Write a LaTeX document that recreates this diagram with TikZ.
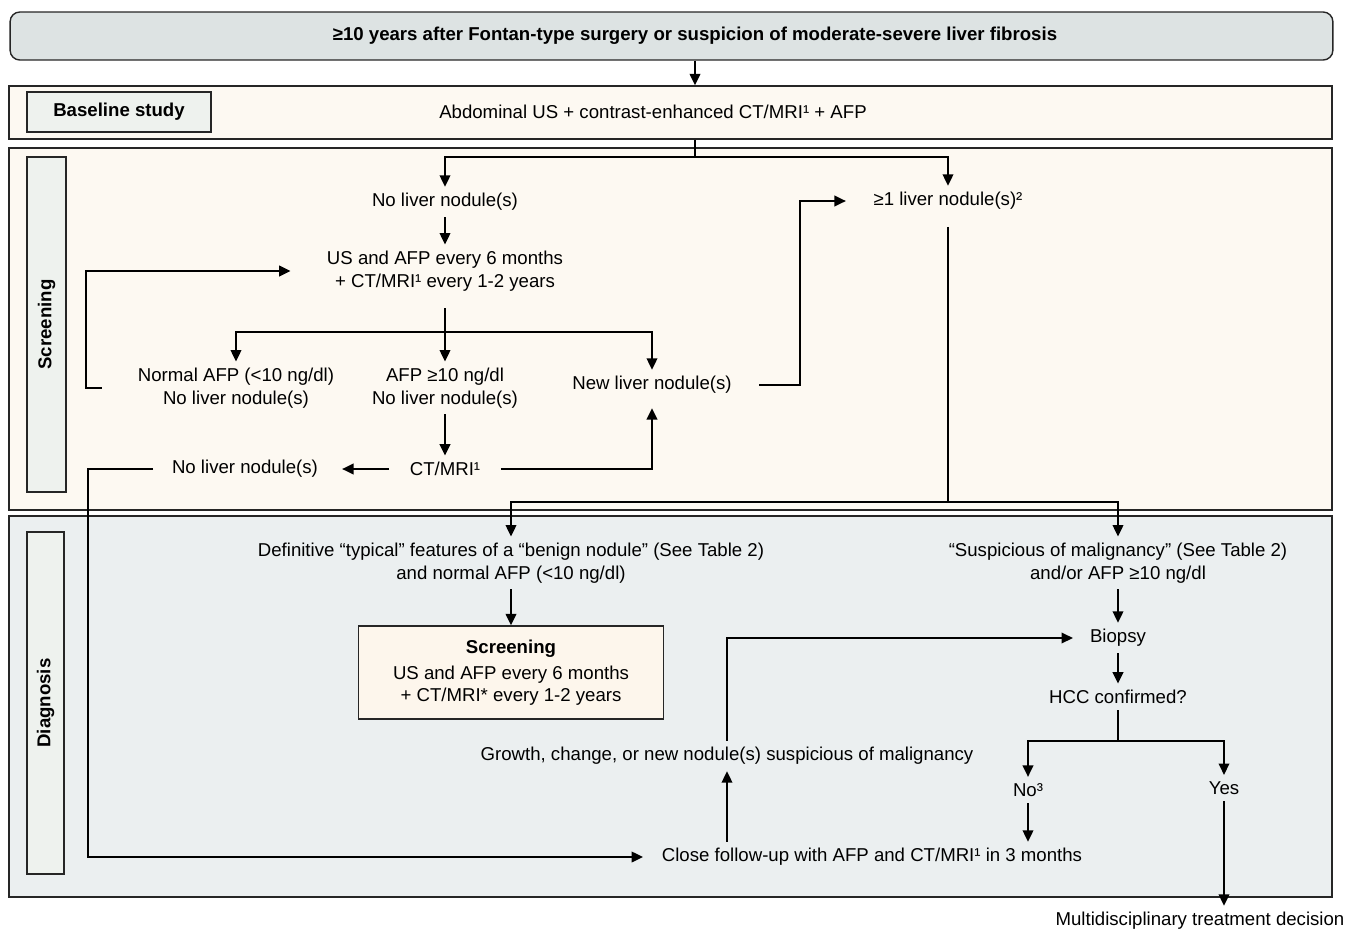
\documentclass[tikz,border=0pt]{standalone}
\usepackage{fontspec}
\setmainfont{Liberation Sans}
\usetikzlibrary{arrows.meta}
\usetikzlibrary{positioning}
\definecolor{topgray}{HTML}{DDE3E3}
\definecolor{creamfill}{HTML}{FDF9F2}
\definecolor{diaggray}{HTML}{EBEFF0}
\definecolor{sidefill}{HTML}{EEF2EE}
\definecolor{boxcream}{HTML}{FDF6EC}
\tikzset{
	line/.style={draw=black, line width=1.1pt},
	arr/.style={line, -{Triangle[length=6.5pt,width=6pt]}},
	band/.style={draw=black!85, line width=0.8pt, minimum width=26.46cm, inner sep=0pt},
	sidebox/.style={draw=black!85, fill=sidefill, line width=0.8pt, inner sep=0pt, font=\bfseries},
	topbox/.style={draw=black!85, fill=topgray, line width=0.8pt, rounded corners=5.5pt,
		minimum width=26.46cm, minimum height=0.96cm, font=\bfseries},
	smallbox/.style={draw=black!85, fill=boxcream, line width=0.8pt, align=center,
		minimum width=6.1cm, minimum height=1.86cm},
}
\begin{document}
\fontsize{10.6}{12.8}\selectfont
\begin{tikzpicture}[x=0.02cm, y=-0.02cm]
	\useasboundingbox (0,0) rectangle (1347,930);
	% bands
	\node[band, fill=creamfill, minimum height=1.06cm] (baseband) at (670.5,112.5) {};
	\node[band, fill=creamfill, minimum height=7.24cm] (scrband) at (670.5,329) {};
	\node[band, fill=diaggray, minimum height=7.62cm] (diagband) at (670.5,706.5) {};
	\node[sidebox, minimum width=3.68cm, minimum height=0.8cm] (basestudy) at (119,112) {Baseline study};
	\node[sidebox, rotate=90, minimum width=6.7cm, minimum height=0.78cm] (scrlabel) at (46.5,324.5) {Screening};
	\node[sidebox, rotate=90, minimum width=6.84cm, minimum height=0.74cm] (diaglabel) at (45.5,703) {Diagnosis};

	% top and baseline
	\node[topbox] (start) at (671.5,36) {\hspace*{0.94cm}≥10 years after Fontan-type surgery or suspicion of moderate-severe liver fibrosis};
	\node (abd) at (653,112) {Abdominal US + contrast-enhanced CT/MRI¹ + AFP};
	\coordinate (split1) at (695,157);
	\draw[arr] (start.south -| split1) -- (baseband.north -| split1);
	\draw[line] (baseband.south -| split1) -- (split1);

	% screening
	\node (nol) at (445,202) {No liver nodule(s)};
	\node (oneplus) at (948,201) {≥1 liver nodule(s)²};
	\node[align=center] (usafp) at (445,271) {US and AFP every 6 months\\+ CT/MRI¹ every 1-2 years};
	\node[align=center] (normafp) at (236,388) {Normal AFP (<10 ng/dl)\\No liver nodule(s)};
	\node[align=center] (afphi) at (445,388) {AFP ≥10 ng/dl\\No liver nodule(s)};
	\node (newnod) at (652,385) {New liver nodule(s)};
	\node (ctmri) at (445,469) {CT/MRI¹};
	\node (nol2) at (245,469) {No liver nodule(s)};
	\coordinate (split2) at (445,332);
	\coordinate (loopL) at (86,330);
	\coordinate (jog1) at (800,300);
	\coordinate (split3) at (948,502);
	\coordinate (loopD) at (88,600);

	\draw[arr] (split1) -| (nol);
	\draw[arr] (split1) -| (oneplus);
	\draw[arr] (nol) -- (usafp);
	\draw[line] ([yshift=-6pt]usafp.south) -- (split2);
	\draw[arr] (split2) -| (normafp);
	\draw[arr] (split2) -- (afphi);
	\draw[arr] (split2) -| (newnod);
	\draw[arr] ([xshift=-17pt]normafp.west) -| (loopL) |- ([xshift=-17pt]usafp.west);
	\draw[arr] (afphi) -- (ctmri);
	\draw[arr, shorten <=8pt, shorten >=10pt] (ctmri) -- (nol2);
	\draw[arr] ([xshift=8pt]ctmri.east) -| ([yshift=-4.5pt]newnod.south);
	\draw[arr] ([xshift=12pt]newnod.east) -| (jog1) |- ([xshift=-12pt]oneplus.west);
	\draw[line] ([yshift=-6pt]oneplus.south) -- (split3);

	% diagnosis
	\node[align=center] (benign) at (511,563) {Definitive “typical” features of a “benign nodule” (See Table 2)\\and normal AFP (<10 ng/dl)};
	\node[align=center] (susp) at (1118,563) {“Suspicious of malignancy” (See Table 2)\\and/or AFP ≥10 ng/dl};
	\node[smallbox] (scrbox) at (511,672.5) {\textbf{Screening}\\[2pt]US and AFP every 6 months\\+ CT/MRI* every 1-2 years};
	\node (biopsy) at (1118,638) {Biopsy};
	\node (hcc) at (1118,697) {HCC confirmed?};
	\node (no3) at (1028,790) {No³};
	\node (yes) at (1224,788) {Yes};
	\node (close) at (872,857) {Close follow-up with AFP and CT/MRI¹ in 3 months};
	\node (growth) at (727,756) {Growth, change, or new nodule(s) suspicious of malignancy};
	\node (multi) at (1200,921) {Multidisciplinary treatment decision};
	\coordinate (split4) at (1118,741);

	\draw[arr] (split3) -| (benign);
	\draw[arr] (split3) -| (susp);
	\draw[arr] (benign) -- (scrbox);
	\draw[arr] (susp) -- (biopsy);
	\draw[arr] (biopsy) -- (hcc);
	\draw[line] (hcc) -- (split4);
	\draw[arr] (split4) -| (no3);
	\draw[arr] (split4) -| (yes);
	\draw[arr] (no3) -- (no3 |- close.north);
	\draw[arr] (close.north -| growth) -- (growth);
	\draw[arr] (growth) |- ([xshift=-6pt]biopsy.west);
	\draw[arr] (yes) -- (yes |- multi.north);
	\draw[arr] ([xshift=-7pt]nol2.west) -| (loopD) |- ([xshift=-7pt]close.west);
\end{tikzpicture}
\end{document}
